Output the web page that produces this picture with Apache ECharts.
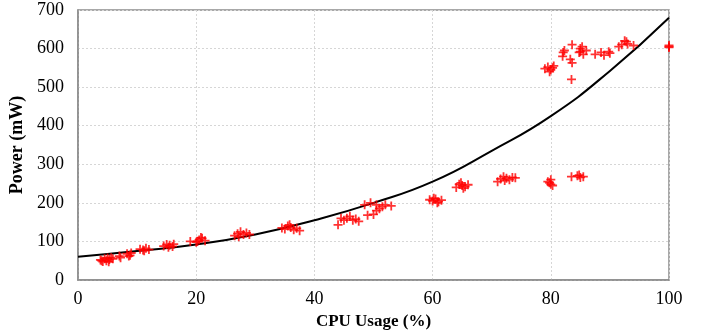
<!DOCTYPE html>
<html><head><meta charset="utf-8">
<script src="https://cdn.jsdelivr.net/npm/echarts@6/dist/echarts.min.js"></script>
<style>html,body{margin:0;padding:0;background:#fff}#c{width:704px;height:335px}</style>
</head><body><div id="c"></div>
<script>
const xTicks = [0, 20, 40, 60, 80, 100];
const yTicks = [0, 100, 200, 300, 400, 500, 600, 700];
// measured (CPU %, mW)
const measuredX = [3.8,4.2,4.5,4.8,5.0,5.3,5.6,5.9,4.0,5.2,7.0,7.2,8.3,8.8,9.0,8.6,
  10.5,11.0,11.5,12.0,11.2,14.5,15.0,15.5,16.0,16.2,15.3,19.0,20.0,20.5,21.0,21.5,20.8,20.2,
  26.5,27.0,27.5,28.0,28.5,27.2,29.0,34.5,35.0,35.5,36.0,36.5,37.0,37.5,35.8,
  44.0,45.0,45.5,46.0,46.5,47.0,47.5,44.5,48.5,49.5,50.0,51.0,51.5,52.0,50.5,49.0,50.5,53.0,
  59.5,60.0,60.5,61.0,61.5,60.2,60.8,64.0,64.5,65.0,65.5,66.0,64.8,65.2,
  71.0,71.5,72.0,72.5,73.0,73.5,74.0,72.2,79.5,80.0,80.0,80.3,79.8,83.5,84.5,85.0,85.5,84.8,
  79.0,79.5,80.0,80.5,79.8,80.3,82.1,83.6,83.5,83.3,83.6,82.0,82.3,
  85.0,85.0,85.5,86.0,84.8,85.3,87.5,88.5,89.0,90.0,89.8,92.0,92.5,93.0,92.8,94.0,91.5,
  100,100,100];
const measuredY = [52,48,55,50,57,53,58,55,50,47,62,58,68,64,70,62,
  80,78,82,79,76,88,92,90,87,93,85,100,98,104,108,102,110,100,
  115,120,125,118,122,112,118,135,132,140,136,130,134,128,143,
  143,155,160,165,155,158,152,160,195,200,170,185,190,195,180,168,195,192,
  208,205,210,203,207,212,200,240,248,245,242,247,252,238,
  255,262,268,264,260,266,265,258,255,248,260,245,252,268,270,266,268,272,
  548,552,545,555,540,550,590,610,520,572,563,580,595,
  592,600,585,595,590,605,585,590,583,588,592,610,620,612,618,608,605,
  605,608,603];
// trend line
const fitX = [0,10,20,30,40,50,60,70,80,90,100];
const fitY = [60,75,92,118,155,200,255,335,425,542,680];

const scatterData = measuredX.map((x,i)=>[x, measuredY[i]]);
const lineData = fitX.map((x,i)=>[x, fitY[i]]);
const font = 'Liberation Serif, Times New Roman, serif';
const chart = echarts.init(document.getElementById('c'));
chart.setOption({
  animation:false,
  grid:{left:76,right:35,top:10,bottom:53,show:true,borderColor:'#8c8c8c',borderWidth:1.5},
  xAxis:{type:'value',min:0,max:100,interval:20,
    name:'CPU Usage (%)',nameLocation:'middle',nameGap:33,
    nameTextStyle:{fontFamily:font,fontSize:17,fontWeight:'bold',color:'#000'},
    axisLine:{show:true,lineStyle:{color:'#8c8c8c',width:1.5}},axisTick:{show:false},
    axisLabel:{fontFamily:font,fontSize:18,color:'#000',margin:10},
    splitLine:{show:true,lineStyle:{color:'#d6d6d6',type:[2,2]}}},
  yAxis:{type:'value',min:0,max:700,interval:100,
    name:'Power (mW)',nameLocation:'middle',nameGap:52,
    nameTextStyle:{fontFamily:font,fontSize:18,fontWeight:'bold',color:'#000'},
    axisLine:{show:true,lineStyle:{color:'#8c8c8c',width:1.5}},axisTick:{show:false},
    axisLabel:{fontFamily:font,fontSize:18,color:'#000',margin:14},
    splitLine:{show:true,lineStyle:{color:'#d6d6d6',type:[2,2]}}},
  series:[
    {type:'scatter',data:scatterData,symbol:'path://M4,0h2v4h4v2h-4v4h-2v-4h-4v-2h4z',symbolSize:9,
     itemStyle:{color:'#ff0000'},z:3},
    {type:'line',data:lineData,smooth:true,showSymbol:false,lineStyle:{color:'#000',width:2},z:2}
  ]
});
</script></body></html>
